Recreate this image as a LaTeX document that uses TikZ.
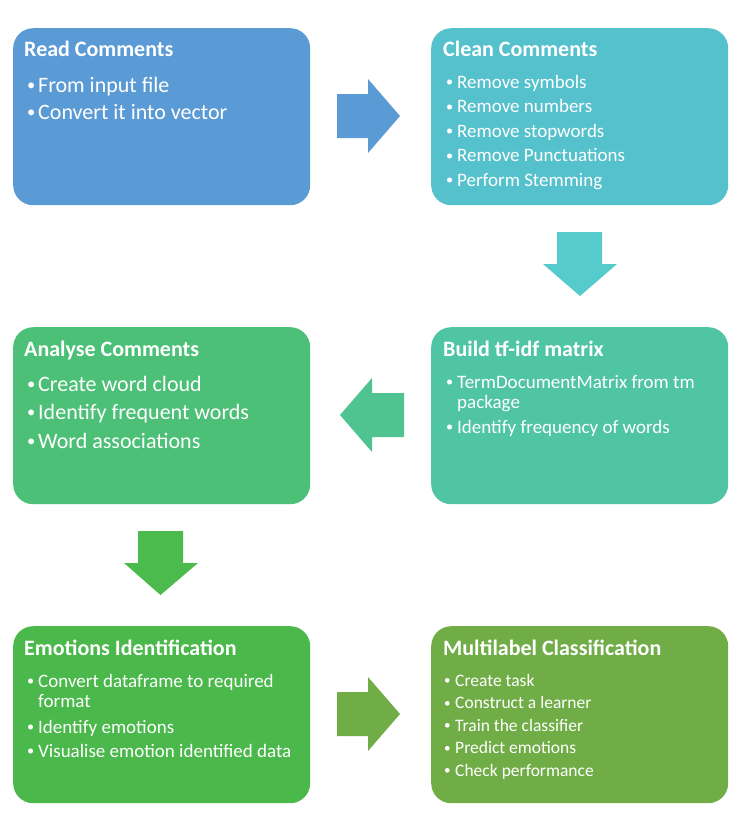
\documentclass[tikz,border=0pt]{standalone}
\usepackage{fontspec}
\setmainfont{Carlito}
\definecolor{cA}{HTML}{5B9BD5}
\definecolor{cB}{HTML}{55C1CD}
\definecolor{cBa}{HTML}{56CBCB}
\definecolor{cC}{HTML}{50C5A6}
\definecolor{cCa}{HTML}{4FC491}
\definecolor{cD}{HTML}{4CC076}
\definecolor{cDa}{HTML}{4BBB4E}
\definecolor{cE}{HTML}{4AB84A}
\definecolor{cF}{HTML}{70AD47}
\newcommand{\bl}[1]{\llap{\makebox[11pt][l]{\raisebox{0.07em}{\scalebox{0.75}{\textbullet}}}}#1}
\begin{document}
\begin{tikzpicture}[x=1pt,y=-1pt,
  box/.style={rounded corners=20pt, minimum width=297pt, minimum height=177pt, anchor=north west, inner sep=0pt, draw=none},
  ttl/.style={anchor=base west, inner sep=0pt, text=white, font=\bfseries\fontsize{22}{25}\selectfont},
  itm/.style={anchor=base west, inner sep=0pt, text=white},
  big/.style={font=\fontsize{22}{26}\selectfont},
  mid/.style={font=\fontsize{19}{22}\selectfont},
  sml/.style={font=\fontsize{17.5}{21}\selectfont}]
\useasboundingbox[fill=white] (0,0) rectangle (745,823);
% boxes
\node[box, fill=cA] (b1) at (13,28) {};
\node[box, fill=cB] (b2) at (431,28) {};
\node[box, fill=cD] (b3) at (13,327) {};
\node[box, fill=cC] (b4) at (431,327) {};
\node[box, fill=cE] (b5) at (13,626) {};
\node[box, fill=cF] (b6) at (431,626) {};
% box 1
\node[ttl] (t1) at (24,56) {Read Comments};
\node[itm,big] (t1a) at (38,92) {\bl{From input file}};
\node[itm,big] (t1b) at (38,119) {\bl{Convert it into vector}};
% box 2
\node[ttl] (t2) at (443,56) {Clean Comments};
\node[itm,mid] (t2a) at (457,88) {\bl{Remove symbols}};
\node[itm,mid] (t2b) at (457,112.5) {\bl{Remove numbers}};
\node[itm,mid] (t2c) at (457,137) {\bl{Remove stopwords}};
\node[itm,mid] (t2d) at (457,161.5) {\bl{Remove Punctuations}};
\node[itm,mid] (t2e) at (457,186) {\bl{Perform Stemming}};
% box 3
\node[ttl] (t3) at (24,356) {Analyse Comments};
\node[itm,big] (t3a) at (38,391) {\bl{Create word cloud}};
\node[itm,big] (t3b) at (38,419.5) {\bl{Identify frequent words}};
\node[itm,big] (t3c) at (38,448) {\bl{Word associations}};
% box 4
\node[ttl] (t4) at (443,356) {Build tf-idf matrix};
\node[itm,mid] (t4a) at (457,388) {\bl{TermDocumentMatrix from tm}};
\node[itm,mid] (t4b) at (457,408.5) {package};
\node[itm,mid] (t4c) at (457,433) {\bl{Identify frequency of words}};
% box 5
\node[ttl] (t5) at (24,655) {Emotions Identification};
\node[itm,mid] (t5a) at (38,687) {\bl{Convert dataframe to required}};
\node[itm,mid] (t5b) at (38,707) {format};
\node[itm,mid] (t5c) at (38,733) {\bl{Identify emotions}};
\node[itm,mid] (t5d) at (38,757) {\bl{Visualise emotion identified data}};
% box 6
\node[ttl] (t6) at (443,655) {Multilabel Classification};
\node[itm,sml] (t6a) at (455,686) {\bl{Create task}};
\node[itm,sml] (t6b) at (455,708.5) {\bl{Construct a learner}};
\node[itm,sml] (t6c) at (455,731) {\bl{Train the classifier}};
\node[itm,sml] (t6d) at (455,753.5) {\bl{Predict emotions}};
\node[itm,sml] (t6e) at (455,776) {\bl{Check performance}};
% block arrows
\fill[cA] (337,94) -- (368,94) -- (368,79) -- (400,116) -- (368,153) -- (368,138) -- (337,138) -- cycle;
\fill[cBa] (557,232) -- (602,232) -- (602,264) -- (617,264) -- (580,296) -- (543,264) -- (557,264) -- cycle;
\fill[cCa] (404,393) -- (372,393) -- (372,378) -- (340,415) -- (372,452) -- (372,437) -- (404,437) -- cycle;
\fill[cDa] (138,531) -- (183,531) -- (183,563) -- (198,563) -- (160.5,595) -- (124,563) -- (138,563) -- cycle;
\fill[cF] (337,692) -- (368,692) -- (368,677) -- (400,714) -- (368,751) -- (368,736) -- (337,736) -- cycle;
\end{tikzpicture}
\end{document}
